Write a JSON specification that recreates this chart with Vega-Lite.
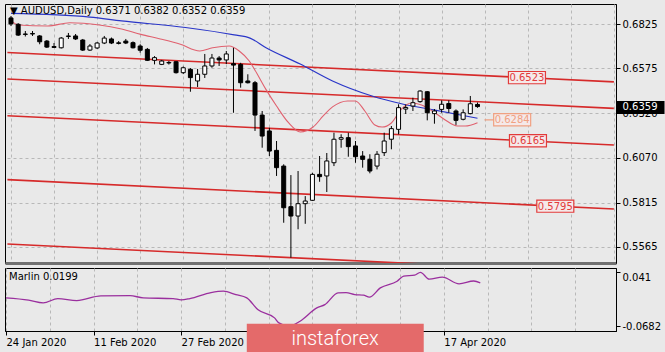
{
  "$schema": "https://vega.github.io/schema/vega-lite/v6.json",
  "background": "#e9e9e9",
  "padding": {"left": 2, "top": 3, "right": 0, "bottom": 0},
  "spacing": 3,
  "config": {
    "font": "DejaVu Sans",
    "view": {"stroke": "#000000", "strokeWidth": 1, "fill": "#e9e9e9"},
    "axis": {"labelFont": "DejaVu Sans", "labelFontSize": 10, "labelColor": "#000000", "gridColor": "#b8b8b8", "gridDash": [3, 3], "gridWidth": 1, "tickColor": "#000000", "domainColor": "#000000"}
  },
  "datasets": {
    "candles": [
      {"i":0,"date":"2020-01-24","o":0.6861,"h":0.6872,"l":0.6815,"c":0.6827},
      {"i":1,"date":"2020-01-27","o":0.6825,"h":0.6832,"l":0.6759,"c":0.6764},
      {"i":2,"date":"2020-01-28","o":0.6770,"h":0.6787,"l":0.6756,"c":0.6768},
      {"i":3,"date":"2020-01-29","o":0.6770,"h":0.6787,"l":0.6759,"c":0.6773},
      {"i":4,"date":"2020-01-30","o":0.6759,"h":0.6764,"l":0.6712,"c":0.6726},
      {"i":5,"date":"2020-01-31","o":0.6730,"h":0.6736,"l":0.6691,"c":0.6696},
      {"i":6,"date":"2020-02-03","o":0.6699,"h":0.6719,"l":0.6691,"c":0.6694},
      {"i":7,"date":"2020-02-04","o":0.6692,"h":0.6753,"l":0.6688,"c":0.6747},
      {"i":8,"date":"2020-02-05","o":0.6756,"h":0.6776,"l":0.6742,"c":0.6759},
      {"i":9,"date":"2020-02-06","o":0.6759,"h":0.6770,"l":0.6736,"c":0.6742},
      {"i":10,"date":"2020-02-07","o":0.6736,"h":0.6742,"l":0.6674,"c":0.6679},
      {"i":11,"date":"2020-02-10","o":0.6679,"h":0.6713,"l":0.6674,"c":0.6702},
      {"i":12,"date":"2020-02-11","o":0.6691,"h":0.6725,"l":0.6685,"c":0.6719},
      {"i":13,"date":"2020-02-12","o":0.6719,"h":0.6759,"l":0.6713,"c":0.6747},
      {"i":14,"date":"2020-02-13","o":0.6742,"h":0.6750,"l":0.6713,"c":0.6719},
      {"i":15,"date":"2020-02-14","o":0.6720,"h":0.6730,"l":0.6711,"c":0.6717},
      {"i":16,"date":"2020-02-17","o":0.6730,"h":0.6742,"l":0.6713,"c":0.6719},
      {"i":17,"date":"2020-02-18","o":0.6721,"h":0.6728,"l":0.6688,"c":0.6692},
      {"i":18,"date":"2020-02-19","o":0.6702,"h":0.6712,"l":0.6664,"c":0.6678},
      {"i":19,"date":"2020-02-20","o":0.6683,"h":0.6691,"l":0.6617,"c":0.6621},
      {"i":20,"date":"2020-02-21","o":0.6621,"h":0.6645,"l":0.6598,"c":0.6636},
      {"i":21,"date":"2020-02-24","o":0.6598,"h":0.6623,"l":0.6594,"c":0.6617},
      {"i":22,"date":"2020-02-25","o":0.6606,"h":0.6617,"l":0.6597,"c":0.6609},
      {"i":23,"date":"2020-02-26","o":0.6613,"h":0.6617,"l":0.6546,"c":0.6551},
      {"i":24,"date":"2020-02-27","o":0.6551,"h":0.6586,"l":0.6543,"c":0.6579},
      {"i":25,"date":"2020-02-28","o":0.6570,"h":0.6577,"l":0.6443,"c":0.6523},
      {"i":26,"date":"2020-03-02","o":0.6504,"h":0.6572,"l":0.6470,"c":0.6542},
      {"i":27,"date":"2020-03-03","o":0.6542,"h":0.6657,"l":0.6521,"c":0.6589},
      {"i":28,"date":"2020-03-04","o":0.6589,"h":0.6657,"l":0.6579,"c":0.6634},
      {"i":29,"date":"2020-03-05","o":0.6634,"h":0.6645,"l":0.6589,"c":0.6623},
      {"i":30,"date":"2020-03-06","o":0.6623,"h":0.6674,"l":0.6600,"c":0.6657},
      {"i":31,"date":"2020-03-09","o":0.6602,"h":0.6692,"l":0.6324,"c":0.6594},
      {"i":32,"date":"2020-03-10","o":0.6598,"h":0.6607,"l":0.6466,"c":0.6494},
      {"i":33,"date":"2020-03-11","o":0.6504,"h":0.6542,"l":0.6490,"c":0.6494},
      {"i":34,"date":"2020-03-12","o":0.6494,"h":0.6504,"l":0.6221,"c":0.6311},
      {"i":35,"date":"2020-03-13","o":0.6311,"h":0.6334,"l":0.6126,"c":0.6192},
      {"i":36,"date":"2020-03-16","o":0.6221,"h":0.6239,"l":0.6079,"c":0.6107},
      {"i":37,"date":"2020-03-17","o":0.6111,"h":0.6164,"l":0.5966,"c":0.6013},
      {"i":38,"date":"2020-03-18","o":0.6022,"h":0.6032,"l":0.5701,"c":0.5786},
      {"i":39,"date":"2020-03-19","o":0.5792,"h":0.5971,"l":0.5503,"c":0.5739},
      {"i":40,"date":"2020-03-20","o":0.5739,"h":0.5994,"l":0.5664,"c":0.5809},
      {"i":41,"date":"2020-03-23","o":0.5809,"h":0.5852,"l":0.5695,"c":0.5824},
      {"i":42,"date":"2020-03-24","o":0.5828,"h":0.5984,"l":0.5824,"c":0.5975},
      {"i":43,"date":"2020-03-25","o":0.5975,"h":0.6079,"l":0.5933,"c":0.5962},
      {"i":44,"date":"2020-03-26","o":0.5966,"h":0.6096,"l":0.5875,"c":0.6051},
      {"i":45,"date":"2020-03-27","o":0.6041,"h":0.6211,"l":0.6022,"c":0.6174},
      {"i":46,"date":"2020-03-30","o":0.6174,"h":0.6202,"l":0.6126,"c":0.6183},
      {"i":47,"date":"2020-03-31","o":0.6183,"h":0.6211,"l":0.6075,"c":0.6132},
      {"i":48,"date":"2020-04-01","o":0.6136,"h":0.6164,"l":0.6041,"c":0.6075},
      {"i":49,"date":"2020-04-02","o":0.6079,"h":0.6107,"l":0.6013,"c":0.6060},
      {"i":50,"date":"2020-04-03","o":0.6060,"h":0.6089,"l":0.5981,"c":0.5994},
      {"i":51,"date":"2020-04-06","o":0.6022,"h":0.6107,"l":0.6003,"c":0.6089},
      {"i":52,"date":"2020-04-07","o":0.6098,"h":0.6211,"l":0.6079,"c":0.6164},
      {"i":53,"date":"2020-04-08","o":0.6174,"h":0.6249,"l":0.6117,"c":0.6234},
      {"i":54,"date":"2020-04-09","o":0.6230,"h":0.6372,"l":0.6202,"c":0.6353},
      {"i":55,"date":"2020-04-10","o":0.6345,"h":0.6371,"l":0.6317,"c":0.6354},
      {"i":56,"date":"2020-04-13","o":0.6362,"h":0.6409,"l":0.6334,"c":0.6381},
      {"i":57,"date":"2020-04-14","o":0.6387,"h":0.6451,"l":0.6381,"c":0.6447},
      {"i":58,"date":"2020-04-15","o":0.6443,"h":0.6447,"l":0.6281,"c":0.6324},
      {"i":59,"date":"2020-04-16","o":0.6319,"h":0.6345,"l":0.6262,"c":0.6334},
      {"i":60,"date":"2020-04-17","o":0.6343,"h":0.6394,"l":0.6324,"c":0.6372},
      {"i":61,"date":"2020-04-20","o":0.6376,"h":0.6394,"l":0.6324,"c":0.6348},
      {"i":62,"date":"2020-04-21","o":0.6334,"h":0.6343,"l":0.6255,"c":0.6281},
      {"i":63,"date":"2020-04-22","o":0.6287,"h":0.6343,"l":0.6281,"c":0.6324},
      {"i":64,"date":"2020-04-23","o":0.6319,"h":0.6419,"l":0.6315,"c":0.6375},
      {"i":65,"date":"2020-04-24","o":0.6371,"h":0.6382,"l":0.6352,"c":0.6359}
    ],
    "channels": [
      {"line":"L1","i":-0.5,"p":0.6665},{"line":"L1","i":84,"p":0.6499},
      {"line":"L2","i":-0.5,"p":0.6515},{"line":"L2","i":84,"p":0.6349},
      {"line":"L3","i":-0.5,"p":0.6307},{"line":"L3","i":84,"p":0.6141},
      {"line":"L4","i":-0.5,"p":0.5945},{"line":"L4","i":84,"p":0.5779},
      {"line":"L5","i":-0.5,"p":0.5581},{"line":"L5","i":84,"p":0.5415}
    ],
    "maSlow": [
      {"i":0,"p":0.6887},{"i":11.0,"p":0.6866},{"i":15.4,"p":0.6844},{"i":24.3,"p":0.6807},
      {"i":31.1,"p":0.6765},{"i":33.3,"p":0.6747},{"i":35.6,"p":0.6691},{"i":40.3,"p":0.6600},
      {"i":44.8,"p":0.6504},{"i":50.3,"p":0.6419},{"i":54.4,"p":0.6375},{"i":58.9,"p":0.6340},
      {"i":65.0,"p":0.6293}
    ],
    "maFast": [
      {"i":0,"p":0.6847},{"i":1.0,"p":0.6821},{"i":5.1,"p":0.6815},{"i":8.2,"p":0.6834},
      {"i":12.3,"p":0.6821},{"i":15.4,"p":0.6798},{"i":18.1,"p":0.6768},{"i":20.8,"p":0.6742},
      {"i":23.6,"p":0.6712},{"i":26.3,"p":0.6674},{"i":28.1,"p":0.6692},{"i":30.4,"p":0.6702},
      {"i":31.8,"p":0.6674},{"i":33.2,"p":0.6617},{"i":33.9,"p":0.6572},{"i":35.5,"p":0.6458},
      {"i":37.0,"p":0.6362},{"i":38.7,"p":0.6266},{"i":40.3,"p":0.6215},{"i":42.1,"p":0.6243},
      {"i":43.5,"p":0.6306},{"i":44.8,"p":0.6357},{"i":46.9,"p":0.6391},{"i":48.0,"p":0.6391},
      {"i":49.3,"p":0.6334},{"i":50.7,"p":0.6255},{"i":51.7,"p":0.6243},{"i":53.0,"p":0.6266},
      {"i":54.4,"p":0.6345},{"i":55.8,"p":0.6379},{"i":57.2,"p":0.6368},{"i":58.9,"p":0.6328},
      {"i":60.3,"p":0.6289},{"i":62.2,"p":0.6249},{"i":63.3,"p":0.6249},{"i":65.0,"p":0.6268}
    ],
    "tags": [
      {"i":71.89,"p":0.6523,"label":"0.6523","kind":"line"},
      {"i":69.83,"p":0.6284,"label":"0.6284","kind":"ma"},
      {"i":72.03,"p":0.6165,"label":"0.6165","kind":"line"},
      {"i":75.84,"p":0.5795,"label":"0.5795","kind":"line"}
    ],
    "marlin": [
      {"i":0,"v":-0.0108},{"i":3.1,"v":-0.0154},{"i":5.1,"v":-0.0209},{"i":7.1,"v":-0.0122},
      {"i":9.7,"v":-0.0162},{"i":13.0,"v":-0.0067},{"i":17.0,"v":-0.0061},{"i":18.8,"v":-0.0108},
      {"i":22.9,"v":-0.0122},{"i":24.0,"v":-0.0148},{"i":25.2,"v":-0.0122},{"i":28.1,"v":0.0000},
      {"i":29.8,"v":0.0028},{"i":31.5,"v":-0.0041},{"i":33.0,"v":-0.0108},{"i":34.5,"v":-0.0345},
      {"i":36.8,"v":-0.0514},{"i":37.4,"v":-0.0615},{"i":38.8,"v":-0.0682},{"i":40.3,"v":-0.0581},
      {"i":42.6,"v":-0.0311},{"i":43.7,"v":-0.0244},{"i":45.5,"v":-0.0006},{"i":46.6,"v":0.0000},
      {"i":47.8,"v":-0.0041},{"i":49.0,"v":-0.0053},{"i":49.8,"v":-0.0093},{"i":51.3,"v":0.0095},
      {"i":53.6,"v":0.0231},{"i":54.5,"v":0.0333},{"i":56.0,"v":0.0353},{"i":56.8,"v":0.0410},
      {"i":58.0,"v":0.0272},{"i":59.8,"v":0.0313},{"i":62.1,"v":0.0177},{"i":64.1,"v":0.0235},
      {"i":65.0,"v":0.0199}
    ]
  },
  "vconcat": [
    {
      "width": 611,
      "height": 259,
      "title": {"text": "▼ AUDUSD,Daily  0.6371 0.6382 0.6352 0.6359", "anchor": "start", "frame": "group", "offset": -20, "baseline": "alphabetic", "font": "DejaVu Sans", "fontSize": 10, "fontWeight": "normal", "color": "#000000", "dx": 5},
      "layer": [
        {
          "layer": [
            {
              "data": {"name": "channels"},
              "mark": {"type": "line", "color": "#d62a2a", "strokeWidth": 1.6, "clip": true},
              "encoding": {
                "x": {"field": "i", "type": "quantitative", "title": null,
                  "scale": {"domain": [-0.137, 83.6], "nice": false, "zero": false},
                  "axis": {"values": [0,6,12,18,24,30,36,42,48,54,60,66,72,78,84], "labels": false, "ticks": false, "grid": true, "domainColor": "#707070", "domainWidth": 3}},
                "y": {"field": "p", "type": "quantitative", "title": null,
                  "scale": {"domain": [0.5473, 0.694], "nice": false, "zero": false},
                  "axis": {"orient": "right", "values": [0.6825, 0.6575, 0.632, 0.607, 0.5815, 0.5565], "format": ".4f", "grid": true, "tickSize": 4, "labelPadding": 2, "labelFlush": false, "labelOverlap": false}},
                "detail": {"field": "line"}
              }
            },
            {
              "data": {"name": "maSlow"},
              "mark": {"type": "line", "color": "#2a36c8", "strokeWidth": 1.2, "interpolate": "monotone", "clip": true},
              "encoding": {
                "x": {"field": "i", "type": "quantitative", "title": null},
                "y": {"field": "p", "type": "quantitative", "title": null}
              }
            },
            {
              "data": {"name": "maFast"},
              "mark": {"type": "line", "color": "#e0606e", "strokeWidth": 1.1, "interpolate": "monotone", "clip": true},
              "encoding": {
                "x": {"field": "i", "type": "quantitative", "title": null},
                "y": {"field": "p", "type": "quantitative", "title": null}
              }
            },
            {
              "data": {"name": "candles"},
              "mark": {"type": "rule", "color": "#000000", "strokeWidth": 1},
              "encoding": {
                "x": {"field": "i", "type": "quantitative", "title": null},
                "y": {"field": "l", "type": "quantitative", "title": null},
                "y2": {"field": "h"}
              }
            },
            {
              "data": {"name": "candles"},
              "mark": {"type": "bar", "size": 4, "stroke": "#000000", "strokeWidth": 1},
              "encoding": {
                "x": {"field": "i", "type": "quantitative", "title": null},
                "y": {"field": "o", "type": "quantitative", "title": null},
                "y2": {"field": "c"},
                "fill": {"condition": {"test": "datum.c > datum.o", "value": "#ffffff"}, "value": "#000000"}
              }
            },
            {
              "data": {"name": "tags"},
              "mark": {"type": "point", "filled": false, "fill": "#f5e9e9", "fillOpacity": 1, "strokeWidth": 1.2, "size": 1369, "opacity": 1},
              "encoding": {
                "x": {"field": "i", "type": "quantitative", "title": null},
                "y": {"field": "p", "type": "quantitative", "title": null},
                "shape": {"condition": {"test": "datum.kind === 'ma'", "value": "M-1.5,0H-1M-1,-0.33H1V0.33H-1Z"}, "value": "M-1,-0.33H1V0.33H-1Z"},
                "stroke": {"field": "kind", "type": "nominal", "scale": {"domain": ["line", "ma"], "range": ["#e23b3b", "#f0a182"]}, "legend": null}
              }
            },
            {
              "data": {"name": "tags"},
              "mark": {"type": "text", "font": "DejaVu Sans", "fontSize": 10, "align": "center", "baseline": "middle", "dy": 0.5},
              "encoding": {
                "x": {"field": "i", "type": "quantitative", "title": null},
                "y": {"field": "p", "type": "quantitative", "title": null},
                "text": {"field": "label"},
                "color": {"field": "kind", "type": "nominal", "scale": {"domain": ["line", "ma"], "range": ["#e23b3b", "#f0a182"]}, "legend": null}
              }
            }
          ]
        },
        {
          "data": {"name": "candles"},
          "transform": [{"filter": "datum.i === 65"}],
          "mark": {"type": "point", "opacity": 0},
          "encoding": {
            "x": {"field": "i", "type": "quantitative", "title": null},
            "y": {"field": "c", "type": "quantitative", "title": null,
              "axis": {"orient": "right", "values": [0.6359], "format": ".4f", "grid": false, "domain": false, "tickSize": 48, "tickWidth": 13, "tickColor": "#000000", "labelColor": "#ffffff", "labelPadding": -42, "labelFlush": false}}
          }
        }
      ],
      "resolve": {"axis": {"y": "independent"}}
    },
    {
      "width": 611,
      "height": 63,
      "title": {"text": "Marlin 0.0199", "anchor": "start", "frame": "group", "offset": -22, "baseline": "alphabetic", "font": "DejaVu Sans", "fontSize": 10, "fontWeight": "normal", "color": "#000000", "dx": 4},
      "layer": [
        {
          "data": {"name": "marlin"},
          "mark": {"type": "line", "color": "#9a2f9e", "strokeWidth": 1.3, "interpolate": "monotone"},
          "encoding": {
            "x": {"field": "i", "type": "quantitative", "title": null,
              "scale": {"domain": [-0.137, 83.6], "nice": false, "zero": false},
              "axis": {"values": [0,6,12,18,24,30,36,42,48,54,60,66,72,78,84], "grid": true, "tickSize": 4, "labelPadding": 2, "labelAlign": "left", "labelFlush": false, "labelOverlap": false, "labelBound": false,
                "tickOpacity": {"condition": {"test": "datum.value % 12 === 0 && datum.value <= 60", "value": 1}, "value": 0},
                "labelExpr": "datum.value === 0 ? '24 Jan 2020' : datum.value === 12 ? '11 Feb 2020' : datum.value === 24 ? '27 Feb 2020' : datum.value === 60 ? '17 Apr 2020' : ''"}},
            "y": {"field": "v", "type": "quantitative", "title": null,
              "scale": {"domain": [-0.078, 0.0499], "nice": false, "zero": false},
              "axis": {"orient": "right", "values": [-0.0682, 0, 0.041], "tickSize": 4, "labelPadding": 2, "labelFlush": false, "labelOverlap": false,
                "labelExpr": "datum.value === 0 ? '0.00' : toString(datum.value)",
                "labelBaseline": {"condition": {"test": "datum.value > 0.04", "value": "top"}, "value": "middle"},
                "gridOpacity": {"condition": {"test": "datum.value === 0", "value": 1}, "value": 0}}}
          }
        },
        {
          "data": {"values": [{"brand": "instaforex"}]},
          "mark": {"type": "rect", "color": "#e46a6a", "clip": false},
          "encoding": {
            "x": {"datum": 33.0},
            "x2": {"datum": 57.25},
            "y": {"datum": -0.0631},
            "y2": {"datum": -0.128}
          }
        },
        {
          "data": {"values": [{"brand": "instaforex"}]},
          "mark": {"type": "text", "color": "#ffffff", "font": "Roboto", "fontSize": 20, "fontWeight": 300, "align": "center", "baseline": "middle", "clip": false},
          "encoding": {
            "x": {"datum": 45.1},
            "y": {"datum": -0.0952},
            "text": {"field": "brand"}
          }
        }
      ]
    }
  ]
}
